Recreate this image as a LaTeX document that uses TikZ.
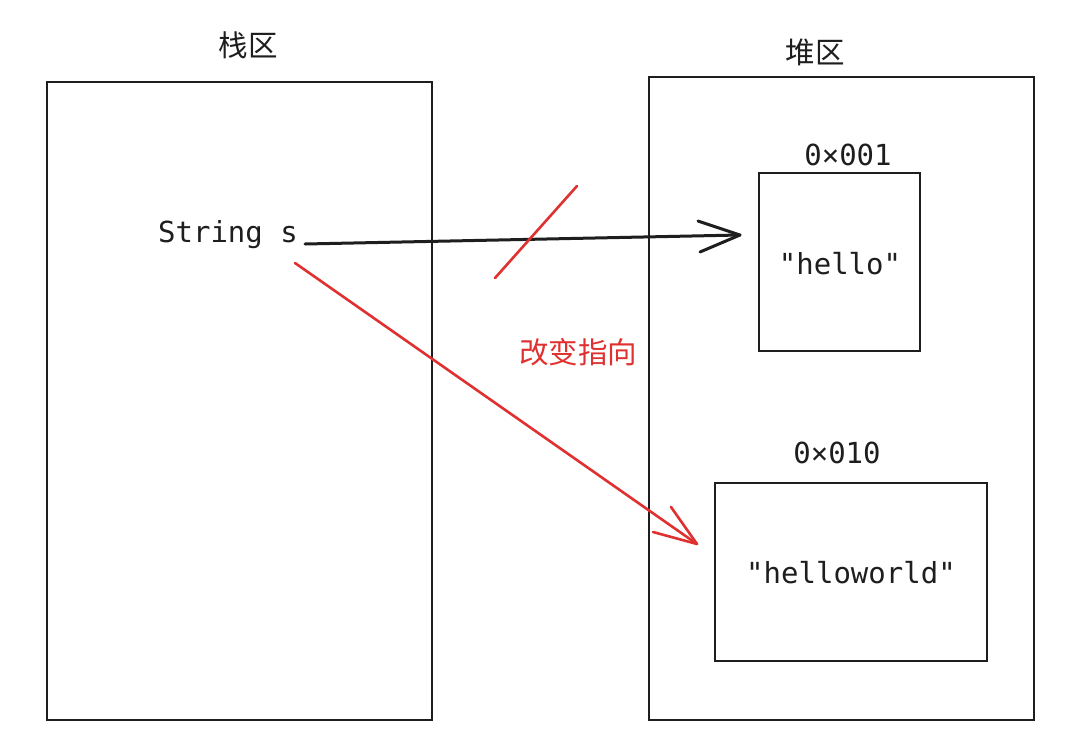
\documentclass[tikz,border=0pt]{standalone}
\usepackage{fontspec}
\setmonofont{DejaVu Sans Mono}
\newfontfamily\cjk{Noto Sans CJK SC}
\definecolor{ink}{HTML}{1E1E1E}
\definecolor{redink}{HTML}{E03131}
\begin{document}
\begin{tikzpicture}[x=1pt,y=-1pt,
  box/.style={draw=ink,line width=2.9pt},
  codetxt/.style={font=\ttfamily\fontsize{29}{32}\selectfont,text=ink,inner sep=0pt},
  cjktxt/.style={font=\cjk\fontsize{29.5}{32}\selectfont,inner sep=0pt},
  blackline/.style={draw=ink,line width=3pt,line cap=round},
  redline/.style={draw=redink,line width=2.6pt,line cap=round}]
\useasboundingbox[fill=white] (0,0) rectangle (1080,745);
% containers
\draw[box] (47,82) rectangle (432,720);
\draw[box] (649,77) rectangle (1034,720);
\draw[box] (759,173) rectangle (920,351);
\draw[box] (715,483) rectangle (987,661);
% labels
\node[cjktxt,text=ink] (stacklbl) at (248,45) {栈区};
\node[cjktxt,text=ink] (heaplbl) at (815,52) {堆区};
\node[codetxt] (addr1) at (848,155) {0×001};
\node[codetxt] (hello) at (840,264) {"hello"};
\node[codetxt] (addr2) at (837,453) {0×010};
\node[codetxt] (hw) at (851,573) {"helloworld"};
\node[codetxt] (svar) at (228,235) {String s};
\node[cjktxt,text=redink] (change) at (578,352) {改变指向};
% black arrow
\coordinate (bstart) at (305,244);
\coordinate (btip) at (740,235);
\coordinate (ba1) at (698,221);
\coordinate (ba2) at (700,252);
\draw[blackline] (bstart) -- (btip);
\draw[blackline,line join=round] (ba1) -- (btip) -- (ba2);
% red slash
\coordinate (s1) at (495,278);
\coordinate (s2) at (577,186);
\draw[redline] (s1) -- (s2);
% red arrow
\coordinate (rstart) at (295,263);
\coordinate (rtip) at (697,544);
\coordinate (ra1) at (671,507);
\coordinate (ra2) at (653,532);
\draw[redline] (rstart) -- (rtip);
\draw[redline,line join=round] (ra1) -- (rtip) -- (ra2);
\end{tikzpicture}
\end{document}
